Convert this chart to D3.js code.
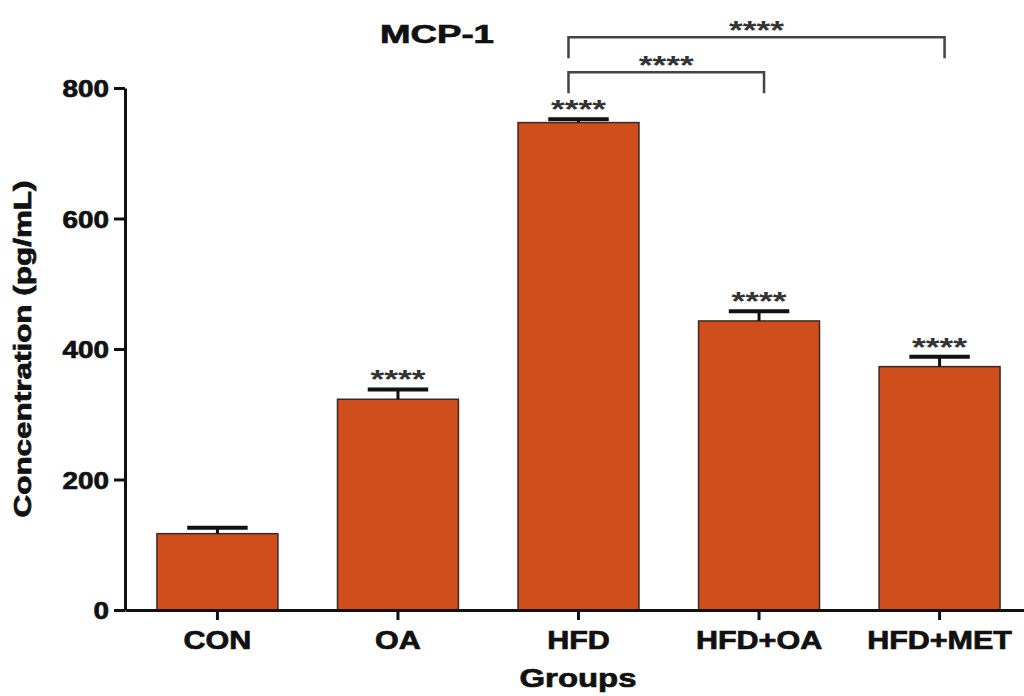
<html>
  <head>
    <meta charset="utf-8">
    <title>MCP-1</title>
    <style>
      body { margin: 0; background: #fff; }
      text { font-family: "Liberation Sans", Arial, sans-serif; font-weight: bold; }
      .heavy { stroke: #111; stroke-width: 0.7px; }
    </style>
  </head>
  <body>
    <script src="https://cdn.jsdelivr.net/npm/d3@7"></script>
    <script>

    var width = 1024,
        height = 696;

    // data
    var groups = ["CON", "OA", "HFD", "HFD+OA", "HFD+MET"];
    var means  = [117, 323, 747, 443, 373];
    var sems   = [9, 15, 5, 15, 15];
    var sigLabels = ["", "****", "****", "****", "****"];
    var yTicks = [0, 200, 400, 600, 800];
    var comparisons = [
      { from: "HFD", to: "HFD+OA",  label: "****" },
      { from: "HFD", to: "HFD+MET", label: "****" }
    ];

    var rows = groups.map(function(g, i) {
      return { group: g, mean: means[i], sem: sems[i], sig: sigLabels[i] };
    });

    var svg = d3.select("body")
                .append("svg")
                .attr("width", width)
                .attr("height", height);

    var x = d3.scaleBand()
              .domain(groups)
              .range([125, 1032])
              .paddingInner(0.33)
              .paddingOuter(0.177);

    var y = d3.scaleLinear()
              .domain([0, 800])
              .range([610, 88]);

    // stretch text horizontally to the width it has in the figure
    function fit(sel, w) {
      sel.attr("textLength", w).attr("lengthAdjust", "spacingAndGlyphs");
    }

    // bars
    svg.append("g")
       .selectAll("rect")
       .data(rows)
       .enter().append("rect")
       .attr("x", function(d) { return x(d.group); })
       .attr("y", function(d) { return y(d.mean); })
       .attr("width", x.bandwidth())
       .attr("height", function(d) { return y(0) - y(d.mean); })
       .attr("fill", "#d04e1b")
       .attr("stroke", "#3a2a22")
       .attr("stroke-width", 1.5);

    // error bars (upper half only)
    var err = svg.append("g").selectAll("g")
       .data(rows)
       .enter().append("g");

    err.append("line")
       .attr("x1", function(d) { return x(d.group) + x.bandwidth() / 2; })
       .attr("x2", function(d) { return x(d.group) + x.bandwidth() / 2; })
       .attr("y1", function(d) { return y(d.mean); })
       .attr("y2", function(d) { return y(d.mean + d.sem); })
       .attr("stroke", "#111").attr("stroke-width", 3);

    err.append("line")
       .attr("x1", function(d) { return x(d.group) + x.bandwidth() / 4; })
       .attr("x2", function(d) { return x(d.group) + x.bandwidth() * 3 / 4; })
       .attr("y1", function(d) { return y(d.mean + d.sem); })
       .attr("y2", function(d) { return y(d.mean + d.sem); })
       .attr("stroke", "#111").attr("stroke-width", 4);

    // significance stars above bars
    svg.append("g").selectAll("text")
       .data(rows.filter(function(d) { return d.sig; }))
       .enter().append("text")
       .attr("x", function(d) { return x(d.group) + x.bandwidth() / 2; })
       .attr("y", function(d) { return y(d.mean + d.sem) - 1; })
       .attr("text-anchor", "middle")
       .attr("font-size", "26px")
       .attr("fill", "#333")
       .text(function(d) { return d.sig; })
       .call(fit, 55);

    // comparison brackets
    var hfdTop = y(means[groups.indexOf("HFD")] + sems[groups.indexOf("HFD")]);
    comparisons.forEach(function(c, i) {
      var x1 = x(c.from) + x.bandwidth() / 2 - 10,
          x2 = x(c.to) + x.bandwidth() / 2 + 5,
          yb = hfdTop - 47 - i * 35;
      svg.append("path")
         .attr("d", "M" + x1 + "," + (yb + 21) + "V" + yb + "H" + x2 + "V" + (yb + 21))
         .attr("fill", "none")
         .attr("stroke", "#444")
         .attr("stroke-width", 2.5);
      svg.append("text")
         .attr("x", (x1 + x2) / 2)
         .attr("y", yb + 2)
         .attr("text-anchor", "middle")
         .attr("font-size", "26px")
         .attr("fill", "#333")
         .text(c.label)
         .call(fit, 55);
    });

    // axes
    var yAxis = svg.append("g")
       .attr("transform", "translate(125,0)")
       .call(d3.axisLeft(y).tickValues(yTicks).tickSize(11).tickSizeOuter(0).tickPadding(5));

    var xAxis = svg.append("g")
       .attr("transform", "translate(0,610)")
       .call(d3.axisBottom(x).tickSize(10).tickSizeOuter(0).tickPadding(11));

    [yAxis, xAxis].forEach(function(a) {
      a.select(".domain").attr("stroke", "#111").attr("stroke-width", 3);
      a.selectAll(".tick line").attr("stroke", "#111").attr("stroke-width", 3);
      a.selectAll(".tick text").attr("fill", "#111").attr("class", "heavy");
    });

    yAxis.selectAll(".tick text")
         .attr("font-size", "24px")
         .attr("font-family", null)
         .attr("dy", "0.36em")
         .each(function() { d3.select(this).call(fit, this.textContent.length * 15.5); });

    xAxis.selectAll(".tick text")
         .attr("font-size", "25px")
         .attr("font-family", null)
         .each(function() {
           var w = this.getComputedTextLength();
           d3.select(this).call(fit, w * 1.22);
         });

    // titles
    svg.append("text")
       .attr("class", "heavy")
       .attr("x", 437).attr("y", 43)
       .attr("text-anchor", "middle")
       .attr("font-size", "26px")
       .attr("fill", "#111")
       .text("MCP-1")
       .call(fit, 114);

    svg.append("text")
       .attr("class", "heavy")
       .attr("x", 578).attr("y", 687)
       .attr("text-anchor", "middle")
       .attr("font-size", "26px")
       .attr("fill", "#111")
       .text("Groups")
       .call(fit, 117);

    svg.append("text")
       .attr("class", "heavy")
       .attr("transform", "translate(31,349) rotate(-90)")
       .attr("text-anchor", "middle")
       .attr("font-size", "23px")
       .attr("fill", "#111")
       .text("Concentration (pg/mL)")
       .call(fit, 337);

    </script>
  </body>
</html>
